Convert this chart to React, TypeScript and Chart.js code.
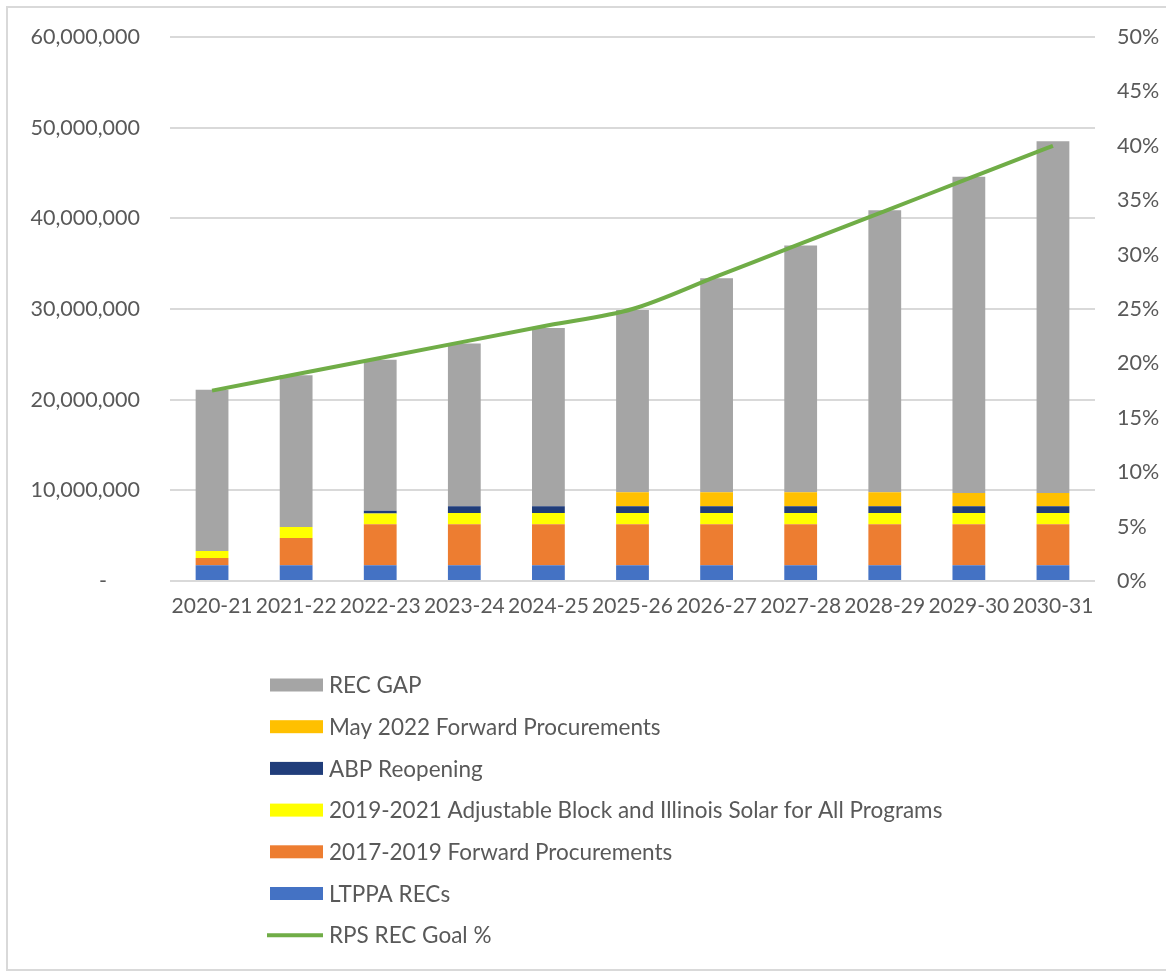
import React, { useEffect, useRef } from 'react';
import { Chart, registerables } from 'chart.js';

Chart.register(...registerables);

const categories = ['2020-21', '2021-22', '2022-23', '2023-24', '2024-25', '2025-26', '2026-27', '2027-28', '2028-29', '2029-30', '2030-31'];

const ltppaRecs = [1750000, 1750000, 1750000, 1750000, 1750000, 1750000, 1750000, 1750000, 1750000, 1750000, 1750000];
const forward2017 = [800000, 3000000, 4500000, 4500000, 4500000, 4500000, 4500000, 4500000, 4500000, 4500000, 4500000];
const abpIsfa2019 = [750000, 1200000, 1200000, 1250000, 1250000, 1250000, 1250000, 1250000, 1250000, 1250000, 1250000];
const abpReopening = [0, 0, 300000, 750000, 750000, 750000, 750000, 750000, 750000, 750000, 750000];
const may2022Forward = [0, 0, 0, 0, 0, 1550000, 1550000, 1550000, 1550000, 1450000, 1450000];
const recGap = [17800000, 16750000, 16650000, 17950000, 19650000, 20100000, 23600000, 27200000, 31100000, 34900000, 38800000];
const rpsGoalPct = [17.5, 19, 20.5, 22, 23.5, 25, 28, 31, 34, 37, 40];

const leftTickLabels = ['-      ', '10,000,000', '20,000,000', '30,000,000', '40,000,000', '50,000,000', '60,000,000'];
const rightTickLabels = ['0%', '5%', '10%', '15%', '20%', '25%', '30%', '35%', '40%', '45%', '50%'];

const FONT = 'Lato, "Open Sans", "Noto Sans", sans-serif';
const TEXT = '#595959';

// display order of legend entries (dataset indices)
const legendOrder = [6, 5, 4, 3, 2, 1, 0];

const stackLegend = {
  id: 'stackLegend',
  afterDraw(chart: any) {
    const ctx = chart.ctx as CanvasRenderingContext2D;
    ctx.save();
    ctx.font = `22.5px ${FONT}`;
    ctx.textBaseline = 'middle';
    ctx.textAlign = 'left';
    legendOrder.forEach((dsIndex, i) => {
      const ds = chart.data.datasets[dsIndex];
      const y = 677 + i * 41.7;
      if (ds.type === 'line') {
        ctx.strokeStyle = ds.borderColor;
        ctx.lineWidth = 4;
        ctx.beginPath();
        ctx.moveTo(259, y);
        ctx.lineTo(315, y);
        ctx.stroke();
      } else {
        ctx.fillStyle = ds.backgroundColor;
        ctx.fillRect(262, y - 6.5, 53, 13);
      }
      ctx.fillStyle = TEXT;
      ctx.fillText(ds.label, 321, y + 1);
    });
    ctx.restore();
  },
};

const noVPad = (s: any, w: number) => {
  s.width = w;
  s.paddingTop = 0;
  s.paddingBottom = 0;
};

export default function App() {
  const ref = useRef<HTMLCanvasElement | null>(null);

  useEffect(() => {
    if (!ref.current) return;
    const chart = new Chart(ref.current, {
      data: {
        labels: categories,
        datasets: [
          {
            type: 'line',
            label: 'RPS REC Goal %',
            data: rpsGoalPct,
            yAxisID: 'y1',
            borderColor: '#70AD47',
            backgroundColor: '#70AD47',
            borderWidth: 4,
            pointRadius: 0,
            cubicInterpolationMode: 'monotone',
            order: 0,
          },
          { type: 'bar', label: 'LTPPA RECs', data: ltppaRecs, backgroundColor: '#4472C4', yAxisID: 'y', order: 1 },
          { type: 'bar', label: '2017-2019 Forward Procurements', data: forward2017, backgroundColor: '#ED7D31', yAxisID: 'y', order: 1 },
          { type: 'bar', label: '2019-2021 Adjustable Block and Illinois Solar for All Programs', data: abpIsfa2019, backgroundColor: '#FFFF00', yAxisID: 'y', order: 1 },
          { type: 'bar', label: 'ABP Reopening', data: abpReopening, backgroundColor: '#203D7A', yAxisID: 'y', order: 1 },
          { type: 'bar', label: 'May 2022 Forward Procurements', data: may2022Forward, backgroundColor: '#FFC000', yAxisID: 'y', order: 1 },
          { type: 'bar', label: 'REC GAP', data: recGap, backgroundColor: '#A5A5A5', yAxisID: 'y', order: 1 },
        ] as any,
      },
      options: {
        animation: false,
        responsive: false,
        devicePixelRatio: 1,
        layout: { autoPadding: false, padding: { top: 29, left: 0, right: 0, bottom: 338 } },
        datasets: { bar: { categoryPercentage: 1, barPercentage: 0.39 } } as any,
        plugins: { legend: { display: false }, tooltip: { enabled: false } },
        scales: {
          x: {
            stacked: true,
            grid: { display: false, drawTicks: false },
            border: { display: false },
            ticks: { color: TEXT, font: { family: FONT, size: 21 }, padding: 13, maxRotation: 0, autoSkip: false },
            afterFit: (s: any) => { s.height = 50; s.paddingLeft = 0; s.paddingRight = 0; },
          },
          y: {
            stacked: true,
            position: 'left',
            min: 0,
            max: 60000000,
            ticks: {
              stepSize: 10000000,
              color: TEXT,
              font: { family: FONT, size: 21.5 },
              padding: 30,
              callback: (_v: any, i: number) => leftTickLabels[i],
            },
            grid: { color: '#d9d9d9', lineWidth: 2, drawTicks: false },
            border: { display: false },
            afterFit: (s: any) => noVPad(s, 162),
          },
          y1: {
            position: 'right',
            min: 0,
            max: 50,
            ticks: {
              stepSize: 5,
              color: TEXT,
              font: { family: FONT, size: 21.5 },
              padding: 22,
              callback: (_v: any, i: number) => rightTickLabels[i],
            },
            grid: { display: false, drawTicks: false },
            border: { display: false },
            afterFit: (s: any) => noVPad(s, 71),
          },
        } as any,
      },
      plugins: [stackLegend],
    });
    return () => chart.destroy();
  }, []);

  return (
    <div
      style={{
        position: 'absolute',
        left: 6,
        top: 6,
        width: 1160,
        height: 965,
        boxSizing: 'border-box',
        borderTop: '2px solid #d9d9d9',
        borderLeft: '2px solid #d9d9d9',
        borderBottom: '2px solid #d9d9d9',
        background: '#fff',
      }}
    >
      <canvas ref={ref} width={1158} height={961} style={{ display: 'block', width: 1158, height: 961 }} />
    </div>
  );
}
